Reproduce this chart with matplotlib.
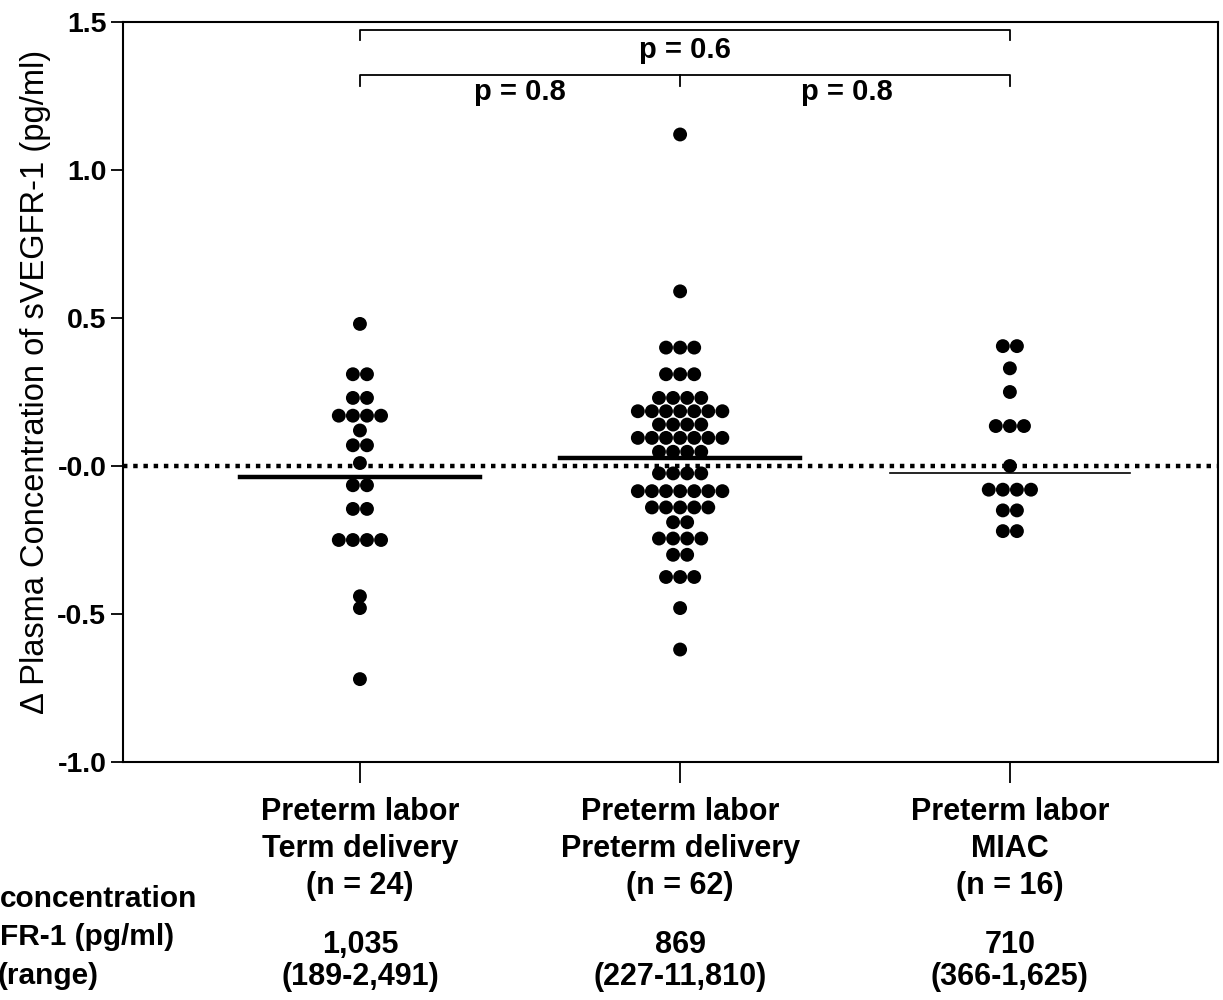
import numpy as np
import matplotlib
matplotlib.use("Agg")
import matplotlib.pyplot as plt

plt.rcParams['font.family'] = ['Liberation Sans', 'DejaVu Sans']

# data
groups = ["Preterm labor\nTerm delivery\n(n = 24)",
          "Preterm labor\nPreterm delivery\n(n = 62)",
          "Preterm labor\nMIAC\n(n = 16)"]
medians = ["1,035\n(189-2,491)", "869\n(227-11,810)", "710\n(366-1,625)"]
x_pos = [1.0, 2.0, 3.03]

term = [0.48, 0.31, 0.31, 0.23, 0.23, 0.17, 0.17, 0.17, 0.17, 0.12, 0.07, 0.07,
        0.01, -0.065, -0.065, -0.145, -0.145, -0.25, -0.25, -0.25, -0.25,
        -0.44, -0.48, -0.72]
preterm = [1.12, 0.59, 0.40, 0.40, 0.40, 0.31, 0.31, 0.31, 0.23, 0.23, 0.23, 0.23,
           0.185, 0.185, 0.185, 0.185, 0.185, 0.185, 0.185,
           0.14, 0.14, 0.14, 0.14,
           0.095, 0.095, 0.095, 0.095, 0.095, 0.095, 0.095,
           0.048, 0.048, 0.048, 0.048,
           -0.025, -0.025, -0.025, -0.025,
           -0.085, -0.085, -0.085, -0.085, -0.085, -0.085, -0.085,
           -0.14, -0.14, -0.14, -0.14, -0.14,
           -0.19, -0.19, -0.245, -0.245, -0.245, -0.245, -0.30, -0.30,
           -0.375, -0.375, -0.375, -0.48, -0.62]
miac = [0.405, 0.405, 0.33, 0.25, 0.135, 0.135, 0.135, 0.0,
        -0.08, -0.08, -0.08, -0.08, -0.15, -0.15, -0.22, -0.22]
means = [-0.037, 0.027, -0.024]
mean_lw = [3.2, 3.2, 1.2]

fig = plt.figure(figsize=(12.23, 10), dpi=100)
ax = fig.add_axes([123/1223, 238/1000, 1095/1223, 740/1000])

spacing = 0.044
for xc, vals in zip(x_pos, [term, preterm, miac]):
    vals = np.array(vals)
    xs, ys = [], []
    for v in np.unique(vals):
        k = np.sum(vals == v)
        for i in range(k):
            xs.append(xc + (i - (k - 1) / 2) * spacing)
            ys.append(v)
    ax.scatter(xs, ys, s=100, color='black', zorder=3, edgecolors='none')

ax.axhline(0, color='black', lw=3.2, ls=(0, (1, 1.3)), zorder=2)
for xc, m, lw in zip(x_pos, means, mean_lw):
    ax.plot([xc - 0.375, xc + 0.375], [m, m], color='black', lw=lw, zorder=4)

# significance brackets
def bracket(x1, x2, y, h=0.035):
    ax.plot([x1, x1, x2, x2], [y - h, y, y, y - h], color='black', lw=1.3)

bracket(x_pos[0], x_pos[2], 1.473)
bracket(x_pos[0], x_pos[2], 1.32)
ax.plot([x_pos[1], x_pos[1]], [1.32, 1.285], color='black', lw=1.3)
ax.text((x_pos[0] + x_pos[2]) / 2, 1.405, "p = 0.6", ha='center', va='center',
        fontsize=21, fontweight='bold')
ax.text(1.5, 1.262, "p = 0.8", ha='center', va='center', fontsize=21, fontweight='bold')
ax.text(2.52, 1.262, "p = 0.8", ha='center', va='center', fontsize=21, fontweight='bold')

ax.set_ylim(-1.0, 1.5)
ax.set_xlim(0.26, 3.68)
ax.set_yticks([-1.0, -0.5, 0.0, 0.5, 1.0, 1.5])
ax.set_yticklabels(['-1.0', '-0.5', '-0.0', '0.5', '1.0', '1.5'])
ax.set_xticks(x_pos)
ax.set_xticklabels([])
ax.tick_params(axis='y', length=9, width=1.3, labelsize=20.5, pad=3)
ax.tick_params(axis='x', length=15, width=1.3)
for lab in ax.get_yticklabels():
    lab.set_fontweight('bold')
for sp in ax.spines.values():
    sp.set_linewidth(1.5)

ax.set_ylabel("\u0394 Plasma Concentration of sVEGFR-1 (pg/ml)", fontsize=23.5)
ax.yaxis.set_label_coords(-0.066, 0.514)

# category labels and medians under the axis, one line at a time
H = 1000.0
for xc, g, md in zip(x_pos, groups, medians):
    xf = ax.transData.transform((xc, 0))[0] / fig.bbox.width
    for line, ypx in zip(g.split("\n"), [812, 849, 886]):
        fig.text(xf, 1 - ypx / H, line, ha='center', va='center', fontsize=22,
                 fontweight='bold')
    for line, ypx in zip(md.split("\n"), [945, 977]):
        fig.text(xf, 1 - ypx / H, line, ha='center', va='center', fontsize=22,
                 fontweight='bold')

fig.text(0.0, 1 - 899 / H, "concentration", ha='left', va='center', fontsize=21.5, fontweight='bold')
fig.text(0.0, 1 - 937 / H, "FR-1 (pg/ml)", ha='left', va='center', fontsize=21.5, fontweight='bold')
fig.text(-0.002, 1 - 976 / H, "(range)", ha='left', va='center', fontsize=21.5, fontweight='bold')

fig.savefig("out.png", dpi=100)
